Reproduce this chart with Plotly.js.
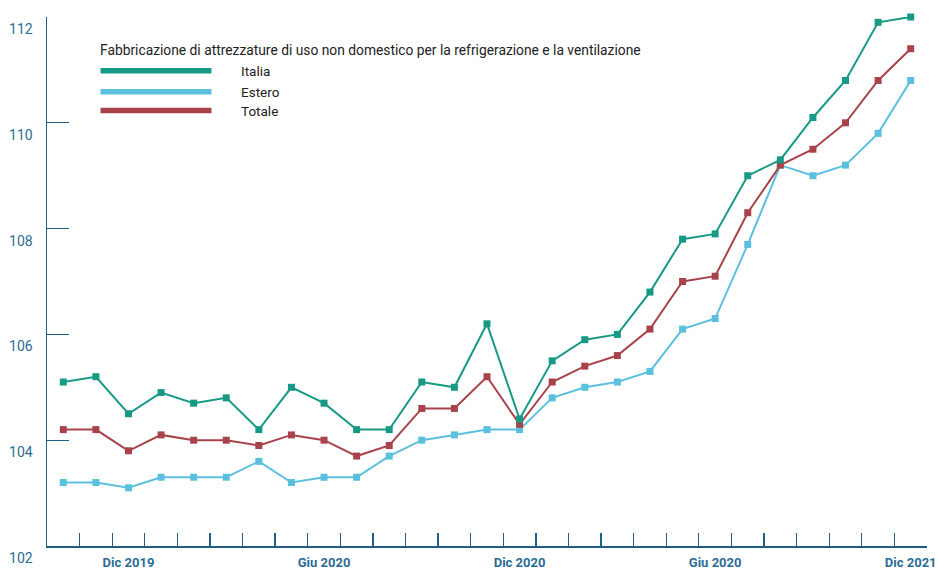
<!DOCTYPE html>
<html>
<head>
<meta charset="utf-8">
<script src="https://cdn.plot.ly/plotly-3.0.1.min.js"></script>
<style>
  html, body { margin: 0; padding: 0; background: #ffffff; }
  #chart { width: 938px; height: 569px; }
</style>
</head>
<body>
<div id="chart"></div>
<script>
// Months from Oct 2019 to Dec 2021
const months = [
  'Ott 2019','Nov 2019','Dic 2019','Gen 2020','Feb 2020','Mar 2020','Apr 2020','Mag 2020','Giu 2020',
  'Lug 2020','Ago 2020','Set 2020','Ott 2020','Nov 2020','Dic 2020','Gen 2021','Feb 2021','Mar 2021',
  'Apr 2021','Mag 2021','Giu 2021','Lug 2021','Ago 2021','Set 2021','Ott 2021','Nov 2021','Dic 2021'
];
// Tick labels as printed in the original (only some months labelled)
const tickLabels = [
  '','','Dic 2019','','','','','','Giu 2020',
  '','','','','','Dic 2020','','','',
  '','','Giu 2020','','','','','','Dic 2021'
];
const italia = [105.1,105.2,104.5,104.9,104.7,104.8,104.2,105.0,104.7,104.2,104.2,105.1,105.0,106.2,104.4,
                105.5,105.9,106.0,106.8,107.8,107.9,109.0,109.3,110.1,110.8,111.9,112.0];
const estero = [103.2,103.2,103.1,103.3,103.3,103.3,103.6,103.2,103.3,103.3,103.7,104.0,104.1,104.2,104.2,
                104.8,105.0,105.1,105.3,106.1,106.3,107.7,109.2,109.0,109.2,109.8,110.8];
const totale = [104.2,104.2,103.8,104.1,104.0,104.0,103.9,104.1,104.0,103.7,103.9,104.6,104.6,105.2,104.3,
                105.1,105.4,105.6,106.1,107.0,107.1,108.3,109.2,109.5,110.0,110.8,111.4];
const seriesNames = ['Italia','Estero','Totale'];
const legendTitle = 'Fabbricazione di attrezzature di uso non domestico per la refrigerazione e la ventilazione';
const yTicks = [102,104,106,108,110,112];

const colors = ['#179a85','#5bc0de','#a9434b'];
const axisColor = '#1f5f85';
const labelColor = '#2c6d95';
const font = 'Roboto, "Open Sans", sans-serif';

const data = [italia, estero, totale].map((vals, i) => ({
  type: 'scatter',
  mode: 'lines+markers',
  x: months,
  y: vals,
  name: seriesNames[i],
  line: {color: colors[i], width: 2},
  marker: {color: colors[i], symbol: 'square', size: 7},
  cliponaxis: false,
  showlegend: false,
  hoverinfo: 'x+y+name'
}));
const ordered = [data[1], data[2], data[0]];

// Manual legend (wide line samples as in original)
const legendYs = [0.8984, 0.8586, 0.8232];
const shapes = legendYs.map((yy, i) => ({
  type: 'line', xref: 'paper', yref: 'paper',
  x0: 0.0608, x1: 0.1869, y0: yy, y1: yy,
  line: {color: colors[i], width: 5.5}
}));
const annotations = legendYs.map((yy, i) => ({
  xref: 'paper', yref: 'paper', x: 0.218, y: yy,
  xanchor: 'left', yanchor: 'middle', showarrow: false,
  text: seriesNames[i], font: {family: font, size: 13.5, color: '#222222'}
}));
annotations.push({
  xref: 'paper', yref: 'paper', x: 0.0585, y: 0.9368,
  xanchor: 'left', yanchor: 'middle', showarrow: false,
  text: legendTitle, font: {family: font, size: 13.8, color: '#222222'}
});

const layout = {
  width: 938, height: 569,
  margin: {l: 47, r: 11, t: 17, b: 23},
  paper_bgcolor: '#ffffff', plot_bgcolor: '#ffffff',
  font: {family: font, size: 13, color: labelColor},
  showlegend: false,
  xaxis: {
    type: 'category',
    range: [-0.5, 26.5],
    tickmode: 'array', tickvals: months, ticktext: tickLabels,
    tickson: 'boundaries',
    tickangle: 0,
    ticks: 'inside', ticklen: 13, tickwidth: 1.3, tickcolor: axisColor,
    showline: true, linecolor: axisColor, linewidth: 1.5,
    showgrid: false, zeroline: false,
    tickfont: {family: font, size: 13, color: labelColor, weight: 'bold'},
    ticklabelstandoff: 4
  },
  yaxis: {
    range: [102, 112],
    tickmode: 'array', tickvals: yTicks,
    ticks: 'inside', ticklen: 22, tickwidth: 1.3, tickcolor: axisColor,
    showline: true, linecolor: axisColor, linewidth: 1.5,
    showgrid: false, zeroline: false,
    tickfont: {family: font, size: 14, color: labelColor},
    ticklabelshift: 12,
    ticklabelstandoff: 10
  },
  shapes: shapes,
  annotations: annotations
};

Plotly.newPlot('chart', ordered, layout, {displayModeBar: false, staticPlot: true});
</script>
</body>
</html>
